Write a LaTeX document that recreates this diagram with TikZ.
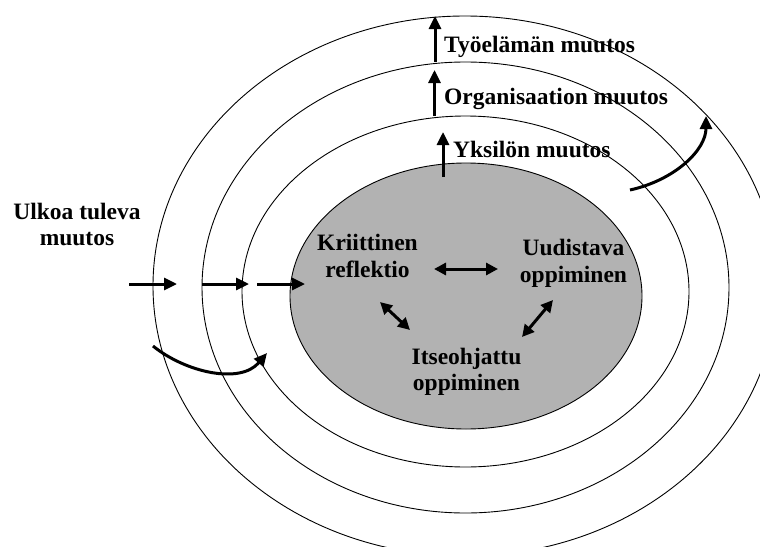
\documentclass[tikz,border=0pt]{standalone}
\usepackage{fontspec}
\setmainfont{Liberation Serif}
\usetikzlibrary{arrows.meta}
\definecolor{coregray}{RGB}{178,178,178}
\begin{document}
\begin{tikzpicture}[x=1pt,y=-1pt,
  ring/.style={draw=black,line width=0.9pt},
  lbl/.style={font=\bfseries\fontsize{23.5}{26.5}\selectfont, inner sep=0pt, align=center},
  flow/.style={line width=3pt, -{Triangle[length=13pt,width=12pt]}},
  link/.style={line width=3pt, {Triangle[length=12pt,width=12pt]}-{Triangle[length=12pt,width=12pt]}},
]
\useasboundingbox (0,0) rectangle (760,546);
% concentric levels of change
\begin{scope}
  \clip (0,0) rectangle (760,546);
  \draw[ring] (465,286) ellipse [x radius=312, y radius=270];
  \draw[ring] (465.5,287.5) ellipse [x radius=263.5, y radius=225.5];
  \draw[ring] (465.5,291.5) ellipse [x radius=223.5, y radius=175.5];
  \draw[ring, fill=coregray] (466,296) ellipse [x radius=176, y radius=133];
\end{scope}

% labels
\node[lbl, anchor=base west] (work) at (444,52) {Työelämän muutos};
\node[lbl, anchor=base west] (org) at (444,104) {Organisaation muutos};
\node[lbl, anchor=base west] (ind) at (453,157) {Yksilön muutos};
\node[lbl] (ext) at (77,224.5) {Ulkoa tuleva\\muutos};
\node[lbl] (crit) at (367.5,256) {Kriittinen\\reflektio};
\node[lbl] (renew) at (573.5,263.5) {Uudistava\\oppiminen};
\node[lbl] (self) at (466.5,372) {Itseohjattu\\oppiminen};

% end points of the connectors
\coordinate (w0) at (435,62);   \coordinate (w1) at (435,16);
\coordinate (o0) at (434.5,116); \coordinate (o1) at (434.5,70);
\coordinate (i0) at (443,177);  \coordinate (i1) at (443,132);
\coordinate (h1a) at (129,284); \coordinate (h1b) at (177,284);
\coordinate (h2a) at (202,284); \coordinate (h2b) at (249,284);
\coordinate (h3a) at (257,284); \coordinate (h3b) at (305,284);
\coordinate (cl0) at (153,346); \coordinate (cl1) at (267,353);
\coordinate (cr0) at (630,190); \coordinate (cr1) at (706,116);
\coordinate (kr) at (434,269);  \coordinate (ur) at (498,269);
\coordinate (ka) at (380,302);  \coordinate (sa) at (410,330);
\coordinate (ub) at (553,300);  \coordinate (sb) at (522,337);

% upward change
\draw[flow] (w0) -- (w1);
\draw[flow] (o0) -- (o1);
\draw[flow] (i0) -- (i1);
% change coming from outside
\draw[flow] (h1a) -- (h1b);
\draw[flow] (h2a) -- (h2b);
\draw[flow] (h3a) -- (h3b);
\draw[flow] (cl0) .. controls (185,372) and (240,385) .. (cl1);
\draw[flow] (cr0) .. controls (675,180) and (706,150) .. (cr1);
% interplay of the learning processes
\draw[link] (kr) -- (ur);
\draw[link] (ka) -- (sa);
\draw[link] (ub) -- (sb);
\end{tikzpicture}
\end{document}
